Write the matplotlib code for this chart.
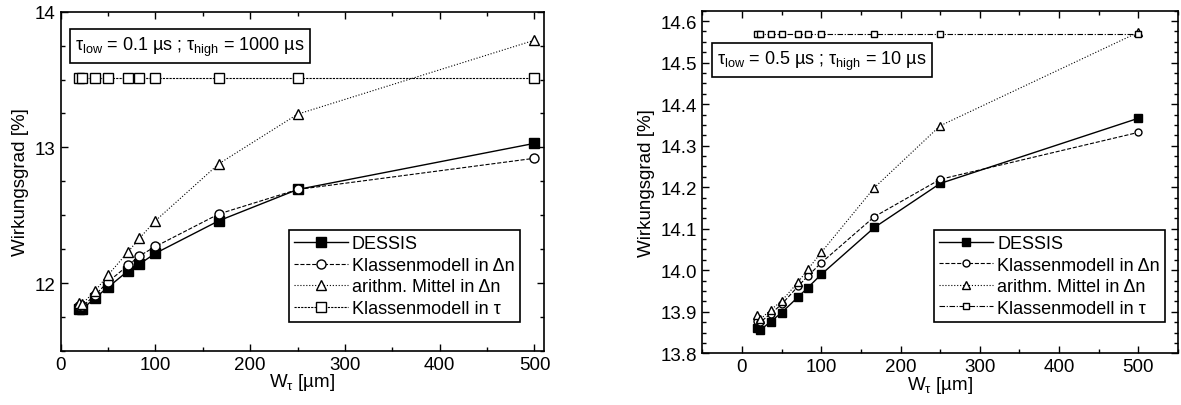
# Wirkungsgrad über W_tau für zwei Lebensdauer-Paare (DESSIS vs. Modelle)

import matplotlib.pyplot as plt
from matplotlib.ticker import MultipleLocator

plt.rcParams['font.family'] = ['Liberation Sans', 'DejaVu Sans']
plt.rcParams['mathtext.fontset'] = 'custom'
plt.rcParams['mathtext.rm'] = 'Liberation Sans'
plt.rcParams['mathtext.it'] = 'Liberation Sans'

OUT_FIG = "out.png"

w_tau = [19, 23, 36, 50, 71, 83, 100, 167, 250, 500]

# tau_low = 0.1 µs ; tau_high = 1000 µs
left_dessis = [11.81, 11.81, 11.89, 11.97, 12.09, 12.14, 12.22, 12.46, 12.69, 13.03]
left_klasse_dn = [11.83, 11.83, 11.91, 12.01, 12.13, 12.20, 12.27, 12.51, 12.69, 12.92]
left_mittel_dn = [11.855, 11.85, 11.94, 12.06, 12.23, 12.33, 12.46, 12.88, 13.245, 13.79]
left_klasse_tau = [13.51] * 10

# tau_low = 0.5 µs ; tau_high = 10 µs
right_dessis = [13.862, 13.856, 13.876, 13.898, 13.936, 13.958, 13.990, 14.103, 14.209, 14.366]
right_klasse_dn = [13.878, 13.875, 13.895, 13.918, 13.962, 13.986, 14.018, 14.129, 14.219, 14.332]
right_mittel_dn = [13.892, 13.882, 13.904, 13.926, 13.972, 14.002, 14.043, 14.199, 14.348, 14.573]
right_klasse_tau = [14.569] * 10

labels = ["DESSIS", "Klassenmodell in Δn", "arithm. Mittel in Δn", "Klassenmodell in τ"]


def draw_panel(ax, series, tau_style, ms, info, info_pos, leg_anchor):
    d, k, m, t = series
    ax.plot(w_tau, d, '-', color='black', lw=1.0, marker='s', ms=ms + 1,
            mfc='black', mec='black', label=labels[0])
    ax.plot(w_tau, k, '--', color='black', lw=0.8, marker='o', ms=ms,
            mfc='white', mec='black', label=labels[1])
    ax.plot(w_tau, m, ':', color='black', lw=0.8, marker='^', ms=ms + 1,
            mfc='white', mec='black', label=labels[2])
    ax.plot(w_tau, t, linestyle=tau_style, color='black', lw=0.8, marker='s',
            ms=ms, mfc='white', mec='black', label=labels[3])

    ax.set_xlabel(r"W$_\tau$ [µm]", fontsize=13.5, labelpad=-1)
    ax.set_ylabel("Wirkungsgrad [%]", fontsize=13.5, labelpad=4)
    ax.xaxis.set_major_locator(MultipleLocator(100))
    ax.xaxis.set_minor_locator(MultipleLocator(50))
    ax.tick_params(which='both', direction='in', top=True, right=True,
                   width=1.0, labelsize=13.5)
    ax.tick_params(which='major', length=5)
    ax.tick_params(which='minor', length=3)
    for sp in ax.spines.values():
        sp.set_linewidth(1.2)

    ax.text(info_pos[0], info_pos[1], info, transform=ax.transAxes,
            fontsize=13, ha='left', va='center',
            bbox=dict(boxstyle='square,pad=0.3', fc='white', ec='black', lw=1.2))

    leg = ax.legend(loc='lower right', bbox_to_anchor=leg_anchor,
                    borderaxespad=0, fontsize=13, handlelength=3.0,
                    handletextpad=0.2, labelspacing=0.25, borderpad=0.3,
                    fancybox=False, framealpha=1, edgecolor='black')
    leg.get_frame().set_linewidth(1.2)


def main():
    fig = plt.figure(figsize=(11.81, 4.06), dpi=100)

    ax1 = fig.add_axes([0.0514, 0.133, 0.4092, 0.8357])
    draw_panel(ax1, (left_dessis, left_klasse_dn, left_mittel_dn, left_klasse_tau),
               (0, (2, 1)), 6.5,
               r"τ$_\mathregular{low}$ = 0.1 µs ; τ$_\mathregular{high}$ = 1000 µs",
               (0.03, 0.898), (0.950, 0.0846))
    ax1.set_xlim(0, 510)
    ax1.set_ylim(11.5, 14)
    ax1.yaxis.set_major_locator(MultipleLocator(1))
    ax1.yaxis.set_minor_locator(MultipleLocator(0.25))

    ax2 = fig.add_axes([0.5947, 0.1273, 0.4028, 0.8439])
    draw_panel(ax2, (right_dessis, right_klasse_dn, right_mittel_dn, right_klasse_tau),
               (0, (5, 1.5, 1, 1.5)), 5,
               r"τ$_\mathregular{low}$ = 0.5 µs ; τ$_\mathregular{high}$ = 10 µs",
               (0.031, 0.856), (0.9727, 0.0914))
    ax2.set_xlim(-50, 550)
    ax2.set_ylim(13.8, 14.625)
    ax2.yaxis.set_major_locator(MultipleLocator(0.1))
    ax2.yaxis.set_minor_locator(MultipleLocator(0.025))
    ax2.yaxis.set_major_formatter(plt.FormatStrFormatter('%.1f'))

    fig.savefig(OUT_FIG, dpi=100)
    plt.close(fig)


if __name__ == "__main__":
    main()
